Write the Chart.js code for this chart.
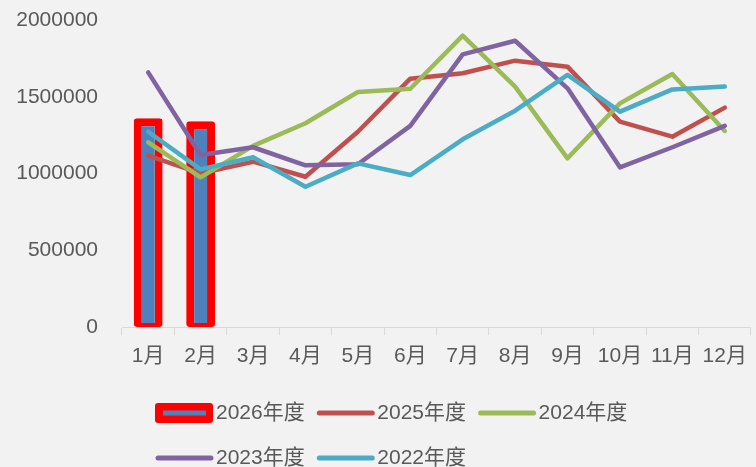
<!DOCTYPE html>
<html>
<head>
<meta charset="utf-8">
<title>年度月度对比</title>
<script src="https://cdn.jsdelivr.net/npm/chart.js@4.4.1/dist/chart.umd.min.js"></script>
<style>
  html, body { margin: 0; padding: 0; background: #f2f2f2; }
  #wrap { width: 756px; height: 467px; }
</style>
</head>
<body>
<div id="wrap"><canvas id="myChart" width="756" height="467"></canvas></div>
<script>
  // months on the x axis
  var months = ['1月', '2月', '3月', '4月', '5月', '6月', '7月', '8月', '9月', '10月', '11月', '12月'];
  var yTicks = [0, 500000, 1000000, 1500000, 2000000];

  // values per year (2026 only has the first two months so far)
  var v2026 = [1360000, 1340000, null, null, null, null, null, null, null, null, null, null];
  var v2025 = [1116000, 1001000, 1077000, 979000, 1272000, 1618000, 1653000, 1735000, 1696000, 1338000, 1240000, 1429000];
  var v2024 = [1203000, 975000, 1180000, 1327000, 1531000, 1552000, 1898000, 1566000, 1099000, 1457000, 1648000, 1277000];
  var v2023 = [1659000, 1121000, 1171000, 1053000, 1060000, 1310000, 1776000, 1865000, 1555000, 1040000, 1171000, 1310000];
  var v2022 = [1272000, 1027000, 1106000, 914000, 1066000, 990000, 1223000, 1409000, 1642000, 1403000, 1548000, 1566000];

  var fontFamily = "'Liberation Sans', 'Noto Sans CJK SC', sans-serif";
  var textColor = '#595959';

  function lineSet(label, data, color, order) {
    return {
      type: 'line',
      label: label,
      data: data,
      borderColor: color,
      backgroundColor: color,
      borderWidth: 4.5,
      borderCapStyle: 'round',
      borderJoinStyle: 'round',
      pointRadius: 0,
      tension: 0,
      order: order
    };
  }

  // legend in two rows under the chart, drawn by hand
  var legendPlugin = {
    id: 'bottomLegend',
    afterDraw: function(chart) {
      var ctx = chart.ctx;
      ctx.save();
      ctx.font = '21px ' + fontFamily;
      ctx.textBaseline = 'middle';
      chart.data.datasets.forEach(function(ds, i) {
        var col = i % 3, row = Math.floor(i / 3);
        var x = 155 + col * 161.3, y = 413 + row * 45;
        if (ds.type === 'bar') {
          ctx.fillStyle = ds.borderColor;
          ctx.beginPath();
          if (ctx.roundRect) ctx.roundRect(x, y - 10, 58, 20, 3);
          else ctx.rect(x, y - 10, 58, 20);
          ctx.fill();
          ctx.fillStyle = ds.backgroundColor;
          ctx.fillRect(x + 8, y - 2.5, 43, 5);
        } else {
          ctx.strokeStyle = ds.borderColor;
          ctx.lineWidth = 5;
          ctx.lineCap = 'round';
          ctx.beginPath();
          ctx.moveTo(x + 3, y);
          ctx.lineTo(x + 56, y);
          ctx.stroke();
        }
        ctx.fillStyle = textColor;
        ctx.fillText(ds.label, x + 61, y);
      });
      ctx.restore();
    }
  };

  var ctx = document.getElementById('myChart').getContext('2d');
  var chart = new Chart(ctx, {
    data: {
      labels: months,
      datasets: [
        {
          type: 'bar',
          label: '2026年度',
          data: v2026,
          backgroundColor: '#4f81bd',
          borderColor: '#ff0000',
          borderWidth: { top: 8, left: 8, right: 8, bottom: 4 },
          borderSkipped: false,
          borderRadius: 3,
          categoryPercentage: 1,
          barPercentage: 0.55,
          order: 5
        },
        lineSet('2025年度', v2025, '#c0504d', 4),
        lineSet('2024年度', v2024, '#9bbb59', 3),
        lineSet('2023年度', v2023, '#8064a2', 2),
        lineSet('2022年度', v2022, '#4bacc6', 1)
      ]
    },
    options: {
      responsive: false,
      animation: false,
      layout: { padding: { top: 20, right: 1, left: 0, bottom: 0 } },
      plugins: {
        legend: { display: false },
        tooltip: { enabled: false }
      },
      scales: {
        x: {
          offset: true,
          grid: { drawOnChartArea: false, drawTicks: true, tickLength: 8, color: '#d9d9d9', offset: true },
          border: { display: true, color: '#d9d9d9', width: 1 },
          ticks: { color: textColor, font: { family: fontFamily, size: 21 }, padding: 9, maxRotation: 0, autoSkip: false },
          afterFit: function(scale) { scale.height = 140; }
        },
        y: {
          min: 0,
          max: 2000000,
          grid: { display: false, drawTicks: false },
          border: { display: false },
          ticks: {
            color: textColor,
            font: { family: fontFamily, size: 21 },
            padding: 24,
            callback: function(v) { return String(v); }
          },
          afterBuildTicks: function(scale) {
            scale.ticks = yTicks.map(function(v) { return { value: v }; });
          },
          afterFit: function(scale) {
            scale.width = 122;
            scale.paddingTop = 0;
            scale.paddingBottom = 0;
          }
        }
      }
    },
    plugins: [legendPlugin]
  });
</script>
</body>
</html>
